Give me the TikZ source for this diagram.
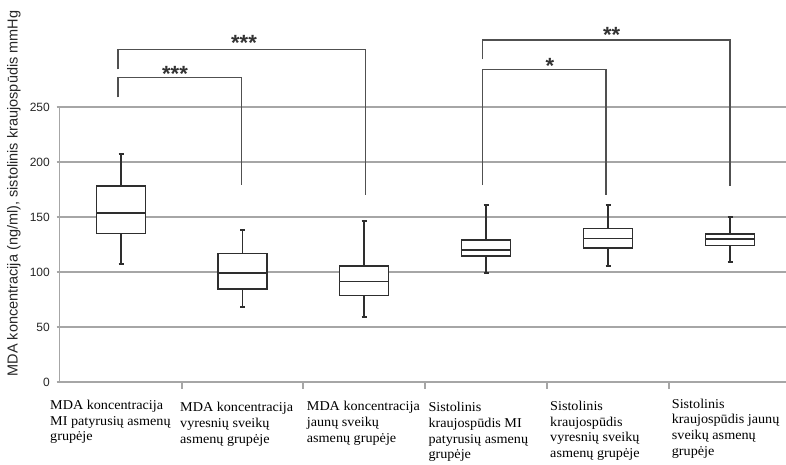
\documentclass[tikz,border=0pt]{standalone}
\usepackage{fontspec}
\setmainfont{Liberation Serif}
\newfontfamily\labfont[FakeStretch=1.05]{Liberation Serif}
\newfontfamily\axfont{Liberation Sans}
\definecolor{gridgray}{HTML}{A6A6A6}
\definecolor{boxink}{HTML}{2E2E2E}
\definecolor{brkink}{HTML}{505050}
\newcommand\bxplot[7]{% name, cx, q3, med, q1, wt, wb
  \coordinate (#1) at (#2,#6);
  \draw[whisk] (#2,#6) -- (#2,#3) (#2,#5) -- (#2,#7);
  \draw[capst] (#2-2.5,#6) -- (#2+2.5,#6) (#2-2.5,#7) -- (#2+2.5,#7);
  \draw[boxst] (#2-24.5,#3) rectangle (#2+24.5,#5);
  \draw[boxst] (#2-24.5,#4) -- (#2+24.5,#4);
}
\begin{document}
\begin{tikzpicture}[x=1pt,y=-1pt,
  gridln/.style={draw=gridgray,line width=1.4pt},
  boxst/.style={draw=boxink,line width=1.6pt,fill=white},
  whisk/.style={draw=boxink,line width=1.2pt},
  capst/.style={draw=boxink,line width=1.8pt},
  brk/.style={draw=brkink,line width=1.4pt},
  ticklab/.style={font=\axfont\fontsize{12}{14}\selectfont,anchor=east,inner sep=0pt,text=black!85},
  catlab/.style={font=\labfont\fontsize{13.5}{15.7}\selectfont,align=left,anchor=north west,inner sep=0pt},
  stars/.style={font=\axfont\bfseries\fontsize{22}{22}\selectfont,inner sep=0pt,anchor=base,text=black!80}]
\useasboundingbox (0,0) rectangle (786,464);
% grid
\foreach \yy in {107,162,217,272,327}{
  \draw[gridln] (56.5,\yy) -- (786,\yy);
}
\draw[gridln] (56.5,382) -- (786,382);
\draw[gridln] (59.3,107) -- (59.3,382);
\foreach \xx in {182,303,425,547,669}{
  \draw[gridln] (\xx,382) -- (\xx,388.5);
}
% tick labels
\node[ticklab] (t250) at (50,107) {250};
\node[ticklab] (t200) at (50,162) {200};
\node[ticklab] (t150) at (50,217) {150};
\node[ticklab] (t100) at (50,272) {100};
\node[ticklab] (t50) at (50,327) {50};
\node[ticklab] (t0) at (50,382) {0};
% axis title
\node[font=\axfont\fontsize{14.5}{16}\selectfont,rotate=90,inner sep=0pt,text=black!85] (ytitle) at (14,193.5) {MDA koncentracija (ng/ml), sistolinis kraujospūdis mmHg};
% brackets (drawn before boxes)
\coordinate (b1a) at (118,97.3);
\coordinate (b1b) at (241.7,185);
\draw[brk] (b1a) |- (241.7,77.7) -- (b1b);
\coordinate (b2a) at (118,69.3);
\coordinate (b2b) at (365.7,195);
\draw[brk] (b2a) |- (365.7,49.3) -- (b2b);
\coordinate (b3a) at (482.7,185);
\coordinate (b3b) at (606,195);
\draw[brk] (b3a) |- (606,69.3) -- (b3b);
\coordinate (b4a) at (482.7,59.3);
\coordinate (b4b) at (730,186);
\draw[brk] (b4a) |- (730,40) -- (b4b);
\node[stars] (s1) at (175,81) {***};
\node[stars] (s2) at (244,50.5) {***};
\node[stars] (s3) at (550,73) {*};
\node[stars] (s4) at (611.7,42) {**};
% boxes
\bxplot{p1}{121}{185.7}{212.7}{233.3}{153.7}{264.3}
\bxplot{p2}{242.5}{253.3}{273}{289}{229.7}{307}
\bxplot{p3}{364}{265.7}{281.3}{295.3}{220.7}{317.3}
\bxplot{p4}{486}{240}{250}{256}{205.3}{273.3}
\bxplot{p5}{608}{228.3}{238.3}{248}{205.3}{265.7}
\bxplot{p6}{730}{233.7}{238.7}{245.3}{217}{262}
% category labels
\node[catlab] (c1) at (50,400) {MDA koncentracija\\MI patyrusių asmenų\\grupėje};
\node[catlab] (c2) at (180,402.3) {MDA koncentracija\\vyresnių sveikų\\asmenų grupėje};
\node[catlab] (c3) at (306.7,401.3) {MDA koncentracija\\jaunų sveikų\\asmenų grupėje};
\node[catlab] (c4) at (428.3,402.3) {Sistolinis\\kraujospūdis MI\\patyrusių asmenų\\grupėje};
\node[catlab] (c5) at (550,401) {Sistolinis\\kraujospūdis\\vyresnių sveikų\\asmenų grupėje};
\node[catlab] (c6) at (671.7,398.6) {Sistolinis\\kraujospūdis jaunų\\sveikų asmenų\\grupėje};
\end{tikzpicture}
\end{document}
